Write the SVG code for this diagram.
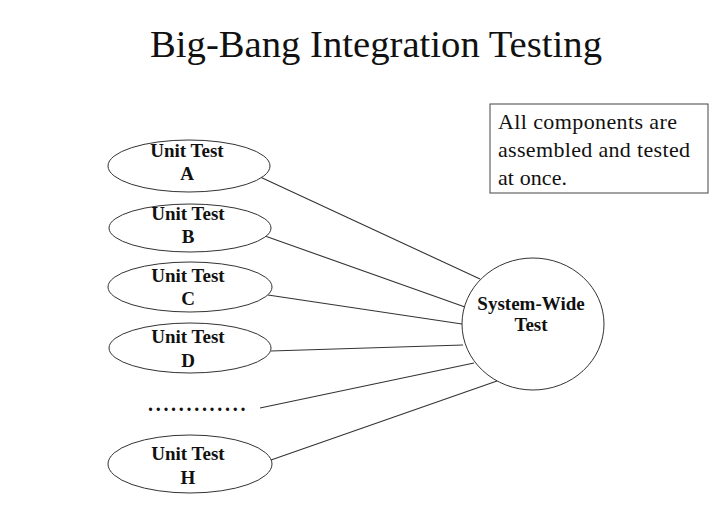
<svg xmlns="http://www.w3.org/2000/svg" width="726" height="529" viewBox="0 0 726 529">
<style>
.n{fill:#fff;stroke:#333;stroke-width:1}
.u{font-family:"Liberation Serif","Times New Roman",serif;font-weight:bold;font-size:19px;text-anchor:middle;fill:#111}
.c line{stroke:#333;stroke-width:1.1}
.t{font-family:"Liberation Serif","Times New Roman",serif;font-size:22px;fill:#111}
</style>
<rect width="726" height="529" fill="#fff"/>
<text x="150" y="57" font-family="Liberation Serif, Times New Roman, serif" font-size="37" textLength="452" lengthAdjust="spacingAndGlyphs" fill="#111">Big-Bang Integration Testing</text>
<g id="note">
<rect x="490" y="104" width="218" height="89" fill="#fff" stroke="#444" stroke-width="1"/>
<text class="t" x="498" y="129" textLength="179">All components are</text>
<text class="t" x="498" y="157" textLength="192">assembled and tested</text>
<text class="t" x="498" y="185" textLength="69">at once.</text>
</g>
<g class="c" id="connectors">
<line x1="258" y1="176" x2="480" y2="279"/>
<line x1="265" y1="236" x2="465" y2="307"/>
<line x1="268" y1="295" x2="462" y2="324"/>
<line x1="271" y1="351" x2="463" y2="345"/>
<line x1="260" y1="408" x2="474" y2="363"/>
<line x1="271" y1="460" x2="497" y2="381"/>
</g>
<g id="unitA"><ellipse class="n" cx="189" cy="166" rx="81" ry="26"/><text class="u" x="187" y="157">Unit Test</text><text class="u" x="187" y="180">A</text></g>
<g id="unitB"><ellipse class="n" cx="190" cy="228" rx="81" ry="24"/><text class="u" x="188" y="220">Unit Test</text><text class="u" x="188" y="243">B</text></g>
<g id="unitC"><ellipse class="n" cx="190" cy="287" rx="82" ry="25"/><text class="u" x="188" y="282">Unit Test</text><text class="u" x="188" y="305">C</text></g>
<g id="unitD"><ellipse class="n" cx="190" cy="348" rx="81" ry="25"/><text class="u" x="188" y="343">Unit Test</text><text class="u" x="188" y="367">D</text></g>
<g id="dots"><text x="148" y="411" font-family="Liberation Serif, Times New Roman, serif" font-weight="bold" font-size="20" letter-spacing="2.7" fill="#111">.............</text></g>
<g id="unitH"><ellipse class="n" cx="190" cy="464" rx="82" ry="29"/><text class="u" x="188" y="460">Unit Test</text><text class="u" x="188" y="484">H</text></g>
<g id="system"><ellipse class="n" cx="533" cy="324" rx="71" ry="66"/><text class="u" x="531" y="310" font-size="16.5">System-Wide</text><text class="u" x="531" y="331" font-size="16.5">Test</text></g>
</svg>
